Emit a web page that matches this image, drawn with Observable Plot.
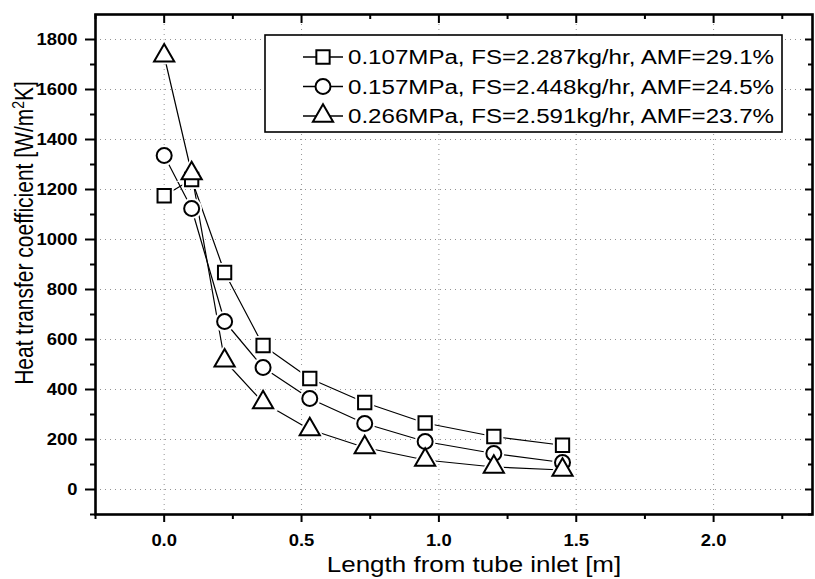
<!DOCTYPE html>
<html>
<head>
<meta charset="utf-8">
<script src="https://cdn.jsdelivr.net/npm/d3@7"></script>
<script src="https://cdn.jsdelivr.net/npm/@observablehq/plot@0.6"></script>
<style>
  html, body { margin: 0; padding: 0; background: #fff; }
  #chart svg { display: block; }
</style>
</head>
<body>
<div id="chart"></div>
<script>
// ---- data ----
const lengths = [0, 0.1, 0.22, 0.36, 0.53, 0.73, 0.95, 1.2, 1.45];
const seriesNames = [
  "0.107MPa, FS=2.287kg/hr, AMF=29.1%",
  "0.157MPa, FS=2.448kg/hr, AMF=24.5%",
  "0.266MPa, FS=2.591kg/hr, AMF=23.7%"
];
const hSquare   = [1175, 1240, 868, 576, 444, 348, 266, 212, 177];
const hCircle   = [1336, 1124, 672, 488, 364, 264, 192, 144, 108];
const hTriangle = [1735, 1264, 515, 348, 240, 168, 118, 90, 78];
const symbols = ["square", "circle", "triangle"];
const xMajor = [0, 0.5, 1.0, 1.5, 2.0];
const xMinor = [-0.25, 0.25, 0.75, 1.25, 1.75, 2.25];
const yMajor = [0, 200, 400, 600, 800, 1000, 1200, 1400, 1600, 1800];
const yMinor = [-100, 100, 300, 500, 700, 900, 1100, 1300, 1500, 1700];
const xTitle = "Length from tube inlet [m]";

const seriesValues = [hSquare, hCircle, hTriangle];
const data = [];
seriesValues.forEach((vals, i) => vals.forEach((v, j) => data.push({series: seriesNames[i], x: lengths[j], y: v})));

const W = 815, H = 579;
const mL = 95, mR = 3, mT = 14, mB = 65;
const pw = W - mL - mR, ph = H - mT - mB;
const font = "'Liberation Sans', Arial, Helvetica, sans-serif";
const R = 7.5;
const STRETCH = 1.15; // the scanned reference is stretched horizontally

const plot = Plot.plot({
  width: W, height: H,
  marginLeft: mL, marginRight: mR, marginTop: mT, marginBottom: mB,
  style: {fontFamily: font, background: "white", color: "black"},
  x: {domain: [-0.25, 2.36], label: null},
  y: {domain: [-100, 1900], label: null},
  symbol: {domain: seriesNames, range: symbols},
  marks: [
    Plot.gridY(yMajor, {stroke: "#888", strokeOpacity: 0.9, strokeDasharray: "1,4"}),
    Plot.gridX(xMajor, {stroke: "#888", strokeOpacity: 0.9, strokeDasharray: "1,4"}),
    // left axis
    Plot.axisY(yMajor, {anchor: "left", tickSize: 10, tickPadding: 8, tickFormat: d => String(d), fontSize: 16, fontWeight: "bold", strokeWidth: 2, label: null}),
    Plot.axisY(yMinor, {anchor: "left", tickSize: 5, tickFormat: () => "", strokeWidth: 2, label: null}),
    // bottom axis
    Plot.axisX(xMajor, {anchor: "bottom", tickSize: 8, tickPadding: 12, tickFormat: d => d.toFixed(1), fontSize: 16, fontWeight: "bold", strokeWidth: 2, label: null}),
    Plot.axisX(xMinor, {anchor: "bottom", tickSize: 5, tickFormat: () => "", strokeWidth: 2, label: null}),
    // top (inward) ticks
    Plot.ruleX(xMajor, {insetBottom: ph - 9, stroke: "black", strokeWidth: 2}),
    Plot.ruleX(xMinor, {insetBottom: ph - 5, stroke: "black", strokeWidth: 2}),
    // right (inward) ticks
    Plot.ruleY(yMajor, {insetLeft: pw - 7, stroke: "black", strokeWidth: 2}),
    Plot.ruleY(yMinor, {insetLeft: pw - 4, stroke: "black", strokeWidth: 2}),
    Plot.frame({stroke: "black", strokeWidth: 2.6}),
    // series
    Plot.line(data, {x: "x", y: "y", z: "series", stroke: "black", strokeWidth: 1.2}),
    Plot.dot(data, {x: "x", y: "y", symbol: "series", r: R + 1.5, fill: "white", stroke: "white", strokeWidth: 3}),
    Plot.dot(data, {x: "x", y: "y", symbol: "series", r: R, fill: "white", stroke: "black", strokeWidth: 2})
  ]
});

document.getElementById("chart").appendChild(plot);

const svg = d3.select(plot);
function stretchText(node, k) {
  const w = node.getComputedTextLength();
  if (w > 0) {
    node.setAttribute("textLength", (w * k).toFixed(1));
    node.setAttribute("lengthAdjust", "spacingAndGlyphs");
  }
}
// tick labels drawn by Plot: enforce the reference's bold, wide look
svg.selectAll("text").each(function () {
  if (this.textContent && this.textContent.trim() !== "") {
    this.style.fontSize = "16px";
    this.style.fontWeight = "bold";
    this.style.fontFamily = font;
    stretchText(this, STRETCH);
  }
});

// ---- axis titles ----
const xt = svg.append("text")
  .attr("x", 474).attr("y", 572)
  .attr("text-anchor", "middle")
  .style("font-family", font).style("font-size", "22px")
  .text(xTitle);
stretchText(xt.node(), 1.18);

const yt = svg.append("text")
  .attr("transform", `translate(33,233) scale(1.2,1) rotate(-90)`)
  .attr("text-anchor", "middle")
  .style("font-family", font).style("font-size", "21px");
yt.append("tspan").text("Heat transfer coefficient [W/m");
yt.append("tspan").attr("baseline-shift", "super").style("font-size", "14px").text("2");
yt.append("tspan").text("K]");

// ---- legend ----
const lg = svg.append("g");
const bx = 265, by = 35, bw = 517, bh = 97;
lg.append("rect").attr("x", bx).attr("y", by).attr("width", bw).attr("height", bh)
  .attr("fill", "white").attr("stroke", "black").attr("stroke-width", 1.6);
const symType = {square: d3.symbolSquare, circle: d3.symbolCircle, triangle: d3.symbolTriangle};
seriesNames.forEach((name, i) => {
  const cy = by + 22 + i * 29.5;
  const g = lg.append("g");
  g.append("line").attr("x1", bx + 38).attr("x2", bx + 78).attr("y1", cy).attr("y2", cy)
    .attr("stroke", "black").attr("stroke-width", 1.4);
  g.append("path").attr("transform", `translate(${bx + 58},${cy})`)
    .attr("d", d3.symbol().type(symType[symbols[i]]).size(Math.PI * R * R)())
    .attr("fill", "white").attr("stroke", "black").attr("stroke-width", 2);
  const t = g.append("text").attr("x", bx + 83).attr("y", cy).attr("dy", "0.36em")
    .attr("text-anchor", "start")
    .style("font-family", font).style("font-size", "20px")
    .text(name);
  t.attr("textLength", 426).attr("lengthAdjust", "spacingAndGlyphs");
});
</script>
</body>
</html>
